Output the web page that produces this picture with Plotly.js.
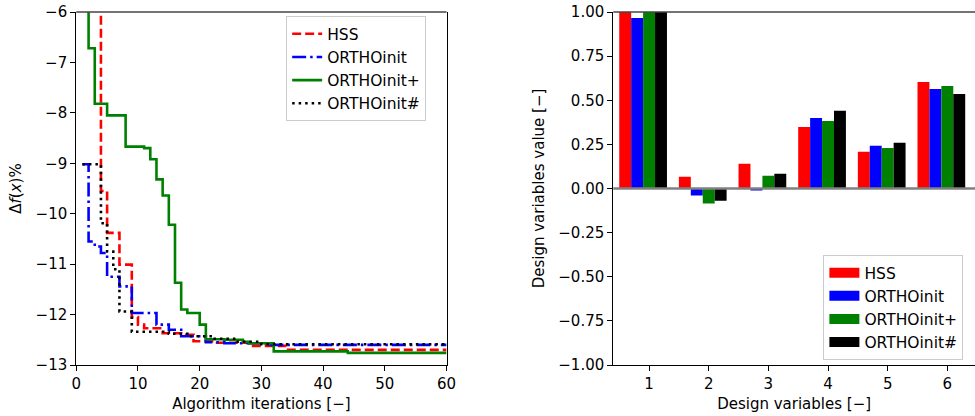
<!DOCTYPE html>
<html>
<head>
<meta charset="utf-8">
<script src="https://cdn.plot.ly/plotly-3.0.1.min.js"></script>
<style>
  html, body { margin: 0; padding: 0; background: #fff; }
  #chart { width: 975px; height: 416px; }
</style>
</head>
<body>
<div id="chart"></div>
<script>
// ---------- Left panel: convergence histories (step changes) ----------
const seriesNames = ["HSS", "ORTHOinit", "ORTHOinit+", "ORTHOinit#"];

const iterHSS = [0, 4, 5, 7, 9, 10, 11, 14, 17, 19, 22, 28, 34, 60];
const valHSS  = [-4.5, -9.55, -10.38, -11.01, -12.05, -12.2, -12.27, -12.37, -12.4, -12.53, -12.56, -12.62, -12.7, -12.7];

const iterOrtho = [1, 2, 3, 4, 5, 7, 9, 13, 15, 17, 21, 24, 31, 60];
const valOrtho  = [-9.02, -10.55, -10.65, -10.78, -11.25, -11.44, -11.97, -12.2, -12.3, -12.43, -12.55, -12.57, -12.6, -12.6];

const iterOrthoPlus = [0, 2, 3, 5, 8, 11, 12, 13, 14, 15, 16, 17, 18, 20, 21, 24, 27, 28, 32, 44, 60];
const valOrthoPlus  = [-4.5, -6.72, -7.82, -8.05, -8.67, -8.7, -8.92, -9.32, -9.64, -10.22, -11.37, -11.9, -11.97, -12.2, -12.49, -12.5, -12.54, -12.57, -12.73, -12.76, -12.76];

const iterOrthoHash = [1, 4, 5, 6, 7, 9, 15, 18, 22, 26, 30, 60];
const valOrthoHash  = [-9.02, -10.19, -10.75, -11.1, -11.94, -12.34, -12.38, -12.43, -12.48, -12.54, -12.59, -12.59];

const xTicksLeft = [0, 10, 20, 30, 40, 50, 60];
const yTicksLeft = [-13, -12, -11, -10, -9, -8, -7, -6];

// ---------- Right panel: design variable values ----------
const designVars = [1, 2, 3, 4, 5, 6];
const barHSS       = [1.00, 0.066, 0.14, 0.349, 0.208, 0.604];
const barOrtho     = [0.966, -0.04, -0.011, 0.40, 0.242, 0.564];
const barOrthoPlus = [1.00, -0.085, 0.072, 0.383, 0.23, 0.581];
const barOrthoHash = [1.00, -0.07, 0.083, 0.44, 0.259, 0.536];
const yTicksRight = [-1, -0.75, -0.5, -0.25, 0, 0.25, 0.5, 0.75, 1];

const colors = ["#ff0000", "#0000ff", "#008000", "#000000"];
const dashes = ["9px,4px", "14px,4px,2.5px,4px", "solid", "2.5px,4px"];
const barOffsets = [-0.5, -0.3, -0.1, 0.1];

const FONT = {family: "DejaVu Sans, sans-serif", size: 15, color: "#000"};
const LEGFONT = {family: "DejaVu Sans, sans-serif", size: 15.5, color: "#000"};

const lineX = [iterHSS, iterOrtho, iterOrthoPlus, iterOrthoHash];
const lineY = [valHSS, valOrtho, valOrthoPlus, valOrthoHash];
const barY = [barHSS, barOrtho, barOrthoPlus, barOrthoHash];

const traces = [];
for (let i = 0; i < 4; i++) {
  traces.push({
    type: "scatter", mode: "lines",
    x: lineX[i], y: lineY[i],
    name: seriesNames[i],
    line: {color: colors[i], width: 2.6, dash: dashes[i], shape: "hv"},
    xaxis: "x", yaxis: "y", legend: "legend", legendgroup: "L" + i,
    hoverinfo: "skip"
  });
}
for (let i = 0; i < 4; i++) {
  traces.push({
    type: "bar",
    x: designVars, y: barY[i],
    name: seriesNames[i],
    marker: {color: colors[i], line: {width: 0}},
    width: 0.2, offset: barOffsets[i],
    xaxis: "x2", yaxis: "y2",
    showlegend: false, hoverinfo: "skip"
  });
}
// legend swatches for the bar panel (wide rectangles like the reference)
for (let i = 0; i < 4; i++) {
  traces.push({
    type: "scatter", mode: "lines",
    x: [null], y: [null],
    name: seriesNames[i],
    line: {color: colors[i], width: 12},
    xaxis: "x2", yaxis: "y2", legend: "legend2", legendgroup: "B" + i,
    showlegend: true, hoverinfo: "skip"
  });
}

const axisCommon = {
  showgrid: false, zeroline: false,
  showline: true, linecolor: "#000", linewidth: 1,
  ticks: "outside", ticklen: 5, tickwidth: 1, tickcolor: "#000",
  tickfont: FONT
};

const layout = {
  width: 975, height: 416,
  margin: {l: 0, r: 0, t: 12, b: 51},
  paper_bgcolor: "#fff", plot_bgcolor: "#fff",
  font: FONT,
  showlegend: true,
  xaxis: Object.assign({}, axisCommon, {
    domain: [0.0782, 0.4580], range: [0, 60],
    tickvals: xTicksLeft, anchor: "y",
    title: {text: "Algorithm iterations [\u2212]", font: FONT, standoff: 6}
  }),
  yaxis: Object.assign({}, axisCommon, {
    domain: [0, 1], range: [-13, -6],
    tickvals: yTicksLeft, anchor: "x", mirror: true,
    title: {text: "\u0394<i>f</i>(<i>x</i>)%", font: FONT, standoff: 10}
  }),
  xaxis2: Object.assign({}, axisCommon, {
    domain: [0.6290, 1.0], range: [0.4, 6.464],
    tickvals: designVars, anchor: "y2",
    title: {text: "Design variables [\u2212]", font: FONT, standoff: 6}
  }),
  yaxis2: Object.assign({}, axisCommon, {
    domain: [0, 1], range: [-1, 1],
    tickvals: yTicksRight, tickformat: ".2f", anchor: "x2",
    title: {text: "Design variables value [\u2212]", font: FONT, standoff: 10}
  }),
  barmode: "overlay",
  legend: {
    x: 0.2935, y: 0.988, xanchor: "left", yanchor: "top",
    bgcolor: "rgba(255,255,255,0.9)", bordercolor: "#cccccc", borderwidth: 1,
    font: LEGFONT, itemwidth: 30, traceorder: "grouped", tracegroupgap: 0
  },
  legend2: {
    x: 0.8445, y: 0.014, xanchor: "left", yanchor: "bottom",
    bgcolor: "rgba(255,255,255,0.9)", bordercolor: "#cccccc", borderwidth: 1,
    font: LEGFONT, itemwidth: 30, traceorder: "grouped", tracegroupgap: 0
  },
  shapes: [
    {type: "line", xref: "x domain", yref: "y domain", x0: 0, x1: 1, y0: 1, y1: 1,
     line: {color: "#444", width: 1.6}, layer: "above"},
    {type: "line", xref: "x2 domain", yref: "y2 domain", x0: 0, x1: 1, y0: 1, y1: 1,
     line: {color: "#444", width: 1.6}, layer: "above"},
    {type: "line", xref: "x2 domain", yref: "y2", x0: 0, x1: 1, y0: 0, y1: 0,
     line: {color: "#808080", width: 2.5}, layer: "above"}
  ]
};

Plotly.newPlot("chart", traces, layout, {displayModeBar: false, staticPlot: true});
</script>
</body>
</html>
